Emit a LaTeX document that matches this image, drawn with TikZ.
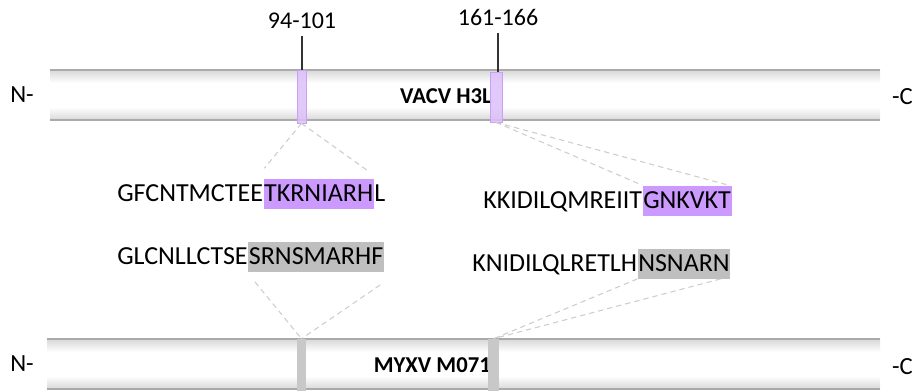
\documentclass[tikz,border=0pt]{standalone}
\usepackage{fontspec}
\setmainfont{Carlito}
\usetikzlibrary{calc}
\definecolor{hlpurple}{RGB}{204,153,255}
\definecolor{mkpurple}{RGB}{221,192,250}
\definecolor{mkpurpleedge}{RGB}{200,160,245}
\definecolor{hlgray}{RGB}{191,191,191}
\definecolor{mkgray}{RGB}{200,200,200}
\definecolor{barline}{RGB}{170,170,170}
\definecolor{dashgray}{RGB}{205,205,205}
\begin{document}
\begin{tikzpicture}[x=0.75pt,y=-0.75pt,
 seq/.style={font=\fontsize{19.5}{23}\selectfont, inner sep=0pt, text height=12.6pt, text depth=0pt},
 hlp/.style={seq, fill=hlpurple, inner ysep=5pt, inner xsep=0.5pt},
 hlg/.style={seq, fill=hlgray, inner ysep=5pt, inner xsep=0.5pt},
 pmark/.style={draw=mkpurpleedge, fill=mkpurple, line width=0.6pt, inner sep=0pt, fill opacity=0.85},
 gmark/.style={fill=mkgray, draw=none, inner sep=0pt},
 tick/.style={line width=0.8pt, black!80},
 numlab/.style={font=\fontsize{18}{21}\selectfont, inner sep=0pt},
 endlab/.style={font=\fontsize{18.5}{21}\selectfont, inner sep=0pt},
 protname/.style={font=\fontsize{17}{19}\selectfont\bfseries, inner sep=0pt},
 zoomline/.style={draw=dashgray, line width=0.8pt, dash pattern=on 4pt off 3pt},
 baredge/.style={draw=barline, line width=1.5pt}
]
\useasboundingbox (0,0) rectangle (914,391);
% top bar
\shade[top color=gray!28, bottom color=white] (50,71) rectangle (880,83);
\shade[top color=white, bottom color=gray!28] (50,107) rectangle (880,119);
\draw[baredge] (50,70) -- (880,70);
\draw[baredge] (50,120) -- (880,120);
% bottom bar
\shade[top color=gray!28, bottom color=white] (47,340) rectangle (880,352);
\shade[top color=white, bottom color=gray!28] (47,376) rectangle (880,388);
\draw[baredge] (47,339) -- (880,339);
\draw[baredge] (47,389) -- (880,389);
% end labels and names
\node[endlab, anchor=west] (nt) at (10,95) {N-};
\node[endlab, anchor=east] (ct) at (913,97) {-C};
\node[endlab, anchor=west] (nb) at (10,364) {N-};
\node[endlab, anchor=east] (cb) at (913,367) {-C};
\node[protname, anchor=east] (vacv) at (492,96) {VACV H3L};
\node[protname, anchor=east] (myxv) at (491,365) {MYXV M071};
% markers
\node[pmark, minimum width=9*0.75pt, minimum height=53*0.75pt] (m1) at (301.5,96.5) {};
\node[pmark, minimum width=12*0.75pt, minimum height=50*0.75pt] (m2) at (496,97) {};
\node[gmark, minimum width=9*0.75pt, minimum height=52*0.75pt] (m3) at (301.5,365) {};
\node[gmark, minimum width=11*0.75pt, minimum height=52*0.75pt] (m4) at (493.5,365) {};
% position labels
\node[numlab, anchor=south, inner ysep=5pt] (la) at (302,36) {94-101};
\node[numlab, anchor=south, inner ysep=5pt] (lb) at (498,33) {161-166};
\draw[tick] (la.south) -- (la.south |- m1.north);
\draw[tick] (lb.south) -- (lb.south |- m2.north);
% sequences
\node[seq, anchor=base west] (s1a) at (117,202) {GFCNTMCTEE};
\node[hlp, anchor=base west] (h1) at (s1a.base east) {TKRNIARH};
\node[seq, anchor=base west] (s1b) at (h1.base east) {L};
\node[seq, anchor=base west] (s2a) at (117,265) {GLCNLLCTSE};
\node[hlg, anchor=base west] (h2) at (s2a.base east) {SRNSMARHF};
\node[seq, anchor=base west] (s3a) at (483,209) {KKIDILQMREIIT};
\node[hlp, anchor=base west] (h3) at (s3a.base east) {GNKVKT};
\node[seq, anchor=base west] (s4a) at (472,272) {KNIDILQLRETLH};
\node[hlg, anchor=base west] (h4) at (s4a.base east) {NSNARN};
% zoom connectors
\coordinate (c1a) at ($(h1.north west)+(1,-10)$);
\coordinate (c1b) at ($(h1.north east)+(-7,-8)$);
\coordinate (c2a) at ($(h2.south west)+(7,10)$);
\coordinate (c2b) at ($(h2.south east)+(-4,13)$);
\coordinate (c4b) at ($(h4.south east)+(-10,0)$);
\draw[zoomline] (m1.south) -- (c1a);
\draw[zoomline] (m1.south) -- (c1b);
\draw[zoomline] (m2.south) -- (h3.north west);
\draw[zoomline] (m2.south) -- ($(h3.north east)+(-3,0)$);
\draw[zoomline] (c2a) -- (m3.north);
\draw[zoomline] (c2b) -- (m3.north);
\draw[zoomline] (h4.south west) -- (m4.north);
\draw[zoomline] (c4b) -- (m4.north);
\end{tikzpicture}
\end{document}
